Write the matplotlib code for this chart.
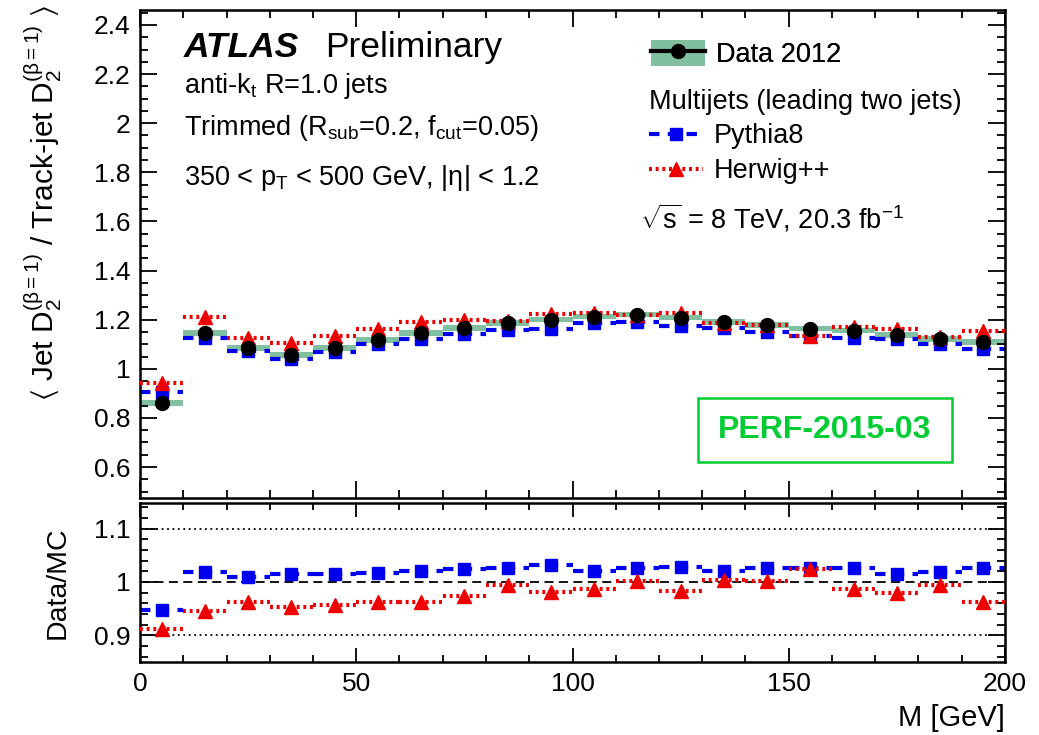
import numpy as np
import matplotlib
matplotlib.use("Agg")
import matplotlib.pyplot as plt
from matplotlib.lines import Line2D
from matplotlib.patches import Patch, Rectangle
from matplotlib.ticker import MultipleLocator

plt.rcParams['font.family'] = ['Liberation Sans', 'DejaVu Sans']
plt.rcParams['mathtext.fontset'] = 'custom'
plt.rcParams['mathtext.rm'] = 'Liberation Sans'
plt.rcParams['mathtext.it'] = 'Liberation Sans:italic'
plt.rcParams['mathtext.bf'] = 'Liberation Sans:bold'
plt.rcParams['mathtext.default'] = 'regular'

# bins of M [GeV]
bin_edges = [0, 10, 20, 30, 40, 50, 60, 70, 80, 90, 100,
             110, 120, 130, 140, 150, 160, 170, 180, 190, 200]
bin_centers = [5, 15, 25, 35, 45, 55, 65, 75, 85, 95, 105,
               115, 125, 135, 145, 155, 165, 175, 185, 195]

data_2012 = [0.860, 1.146, 1.085, 1.056, 1.085, 1.118, 1.146, 1.167, 1.187, 1.200,
             1.212, 1.220, 1.208, 1.190, 1.179, 1.163, 1.155, 1.138, 1.122, 1.109]
data_err = [0.011, 0.011, 0.011, 0.011, 0.011, 0.011, 0.011, 0.011, 0.011, 0.011,
            0.011, 0.011, 0.011, 0.011, 0.011, 0.011, 0.011, 0.011, 0.011, 0.011]
pythia8 = [0.907, 1.125, 1.074, 1.041, 1.070, 1.100, 1.122, 1.140, 1.157, 1.164,
           1.187, 1.189, 1.175, 1.167, 1.149, 1.134, 1.126, 1.122, 1.101, 1.081]
herwig = [0.943, 1.211, 1.127, 1.107, 1.134, 1.162, 1.191, 1.199, 1.193, 1.222,
          1.229, 1.218, 1.228, 1.185, 1.178, 1.135, 1.170, 1.162, 1.129, 1.152]
ratio_pythia8 = [0.947, 1.019, 1.010, 1.014, 1.014, 1.016, 1.021, 1.024, 1.026, 1.031,
                 1.021, 1.026, 1.028, 1.020, 1.026, 1.026, 1.026, 1.014, 1.019, 1.026]
ratio_herwig = [0.911, 0.946, 0.963, 0.954, 0.957, 0.962, 0.962, 0.973, 0.995, 0.982,
                0.986, 1.002, 0.984, 1.004, 1.001, 1.025, 0.987, 0.979, 0.994, 0.963]

GREEN = '#80c0a0'
BLUE = '#0000ee'
RED = '#ee0000'
FS = 19.5

W, H = 1039, 735
fig = plt.figure(figsize=(W / 100, H / 100), dpi=100)
ax = fig.add_axes([140 / W, 1 - 498 / H, 865 / W, 488 / H])
rax = fig.add_axes([140 / W, 1 - 662 / H, 865 / W, 159 / H])

lo = np.array(bin_edges[:-1])
hi = np.array(bin_edges[1:])
d = np.array(data_2012)
de = np.array(data_err)

# ---- top panel
ax.bar(bin_centers, 2 * de, bottom=d - de, width=10, color=GREEN, lw=0, zorder=1)
ax.hlines(pythia8, lo, hi, colors=BLUE, linestyles=(0, (2.5, 2)), lw=3, zorder=2)
ax.plot(bin_centers, pythia8, 's', color=BLUE, ms=9, zorder=3)
ax.hlines(herwig, lo, hi, colors=RED, linestyles=(0, (0.7, 0.9)), lw=3, zorder=4)
ax.plot(bin_centers, herwig, '^', color=RED, ms=10, zorder=5)
ax.plot(bin_centers, data_2012, 'o', color='black', ms=10, zorder=6)

ax.set_xlim(0, 200)
ax.set_ylim(0.474, 2.461)
ax.yaxis.set_minor_locator(MultipleLocator(0.05))
ax.set_yticks([0.6, 0.8, 1.0, 1.2, 1.4, 1.6, 1.8, 2.0, 2.2, 2.4])
ax.set_yticklabels(['0.6', '0.8', '1', '1.2', '1.4', '1.6', '1.8', '2', '2.2', '2.4'])
ax.set_ylabel(r'$\langle$ Jet D$_2^{(\beta=1)}$ / Track-jet D$_2^{(\beta=1)}$ $\rangle$',
              fontsize=21.5)
ax.yaxis.set_label_coords(-0.088, 0.605)

# ---- ratio panel
rax.axhline(1.0, color='black', ls=(0, (5, 3)), lw=1.3, zorder=1)
rax.axhline(1.1, color='black', ls=(0, (1, 2)), lw=1.3, zorder=1)
rax.axhline(0.9, color='black', ls=(0, (1, 2)), lw=1.3, zorder=1)
rax.hlines(ratio_pythia8, lo, hi, colors=BLUE, linestyles=(0, (2.5, 2)), lw=3, zorder=2)
rax.plot(bin_centers, ratio_pythia8, 's', color=BLUE, ms=9, zorder=3)
rax.hlines(ratio_herwig, lo, hi, colors=RED, linestyles=(0, (0.7, 0.9)), lw=3, zorder=4)
rax.plot(bin_centers, ratio_herwig, '^', color=RED, ms=10, zorder=5)
rax.set_xlim(0, 200)
rax.set_ylim(0.85, 1.148)
rax.set_yticks([0.9, 1.0, 1.1])
rax.set_yticklabels(['0.9', '1', '1.1'])
rax.yaxis.set_minor_locator(MultipleLocator(0.02))
rax.set_ylabel('Data/MC', fontsize=20.5)
rax.yaxis.set_label_coords(-0.08, 0.5)
rax.set_xlabel('M [GeV]', fontsize=21, loc='right', labelpad=6)

for a in (ax, rax):
    a.xaxis.set_major_locator(MultipleLocator(50))
    a.xaxis.set_minor_locator(MultipleLocator(10))
    a.tick_params(which='both', direction='in', top=True, right=True, labelsize=19, width=1.3)
    a.tick_params(which='major', length=12, pad=7)
    a.tick_params(which='minor', length=6)
    for s in a.spines.values():
        s.set_linewidth(1.8)
ax.tick_params(labelbottom=False)
rax.tick_params(axis='x', which='major', length=10)
rax.tick_params(axis='x', which='minor', length=5)

# ---- labels
fx = lambda px: px / W
fy = lambda py: 1 - py / H
fig.text(fx(184), fy(57), 'ATLAS', fontsize=25.5, fontweight='bold', fontstyle='italic', va='baseline')
fig.text(fx(325), fy(57), 'Preliminary', fontsize=25.5, va='baseline')
fig.text(fx(184), fy(93), r'anti-k$_{t}$ R=1.0 jets', fontsize=FS, va='baseline')
fig.text(fx(184), fy(135), r'Trimmed (R$_{sub}$=0.2, f$_{cut}$=0.05)', fontsize=FS, va='baseline')
fig.text(fx(184), fy(185), r'350 < p$_{T}$ < 500 GeV, |$\eta$| < 1.2', fontsize=FS, va='baseline')
fig.text(fx(640), fy(229), r'$\sqrt{s}$ = 8 TeV, 20.3 fb$^{-1}$', fontsize=FS, va='baseline')

# legends
h_data = (Patch(facecolor=GREEN, edgecolor='none'),
          Line2D([], [], color='black', lw=3, marker='o', ms=10))
h_py = Line2D([], [], color=BLUE, ls=(0, (2.5, 2)), lw=3, marker='s', ms=9)
h_hw = Line2D([], [], color=RED, ls=(0, (0.7, 0.9)), lw=3, marker='^', ms=10)
leg1 = fig.legend([h_data], ['Data 2012'], loc='upper left', bbox_to_anchor=(fx(651), fy(40)),
                  frameon=False, fontsize=FS, handlelength=2.0, handleheight=1.1,
                  handletextpad=0.4, borderaxespad=0, borderpad=0)
leg2 = fig.legend([h_py, h_hw], ['Pythia8', 'Herwig++'], loc='upper left',
                  bbox_to_anchor=(fx(649), fy(89)), frameon=False, fontsize=FS,
                  title='Multijets (leading two jets)', title_fontsize=FS, alignment='left',
                  handlelength=2.0, handletextpad=0.4, labelspacing=0.33, borderaxespad=0,
                  borderpad=0)
leg2._legend_box.sep = 6
fig.add_artist(leg1)

# publication tag
ax.add_patch(Rectangle((fx(698), fy(462)), (952 - 698) / W, (462 - 398) / H,
                       transform=fig.transFigure, fill=False, edgecolor='#00cc33', lw=1.8,
                       clip_on=False))
fig.text(fx(825), fy(430), 'PERF-2015-03', fontsize=23, fontweight='bold', color='#00cc33',
         ha='center', va='center')

fig.savefig('out.png', dpi=100)
